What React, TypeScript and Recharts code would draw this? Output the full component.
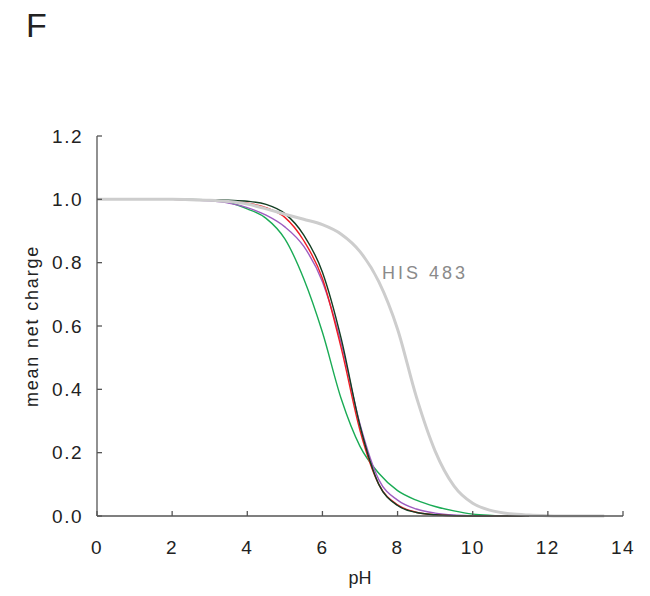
import { LineChart, Line, XAxis, YAxis } from "recharts";

// pH grid the curves were read on
const phValues = [
  0, 0.5, 1, 1.5, 2, 2.5, 3, 3.5, 4, 4.5, 5, 5.5, 6, 6.5, 7, 7.5, 8, 8.5, 9,
  9.5, 10, 10.5, 11, 11.5, 12, 12.5, 13, 13.5, 14,
];

// mean net charge per residue
const his483 = [
  1, 1, 1, 1, 1, 0.999, 0.997, 0.993, 0.985, 0.97, 0.953, 0.937, 0.92, 0.89,
  0.835, 0.74, 0.59, 0.376, 0.205, 0.095, 0.04, 0.017, 0.007, 0.003, 0.001, 0,
  0, 0, null,
];
const blackCurve = [
  1, 1, 1, 1, 1, 1, 0.999, 0.997, 0.994, 0.984, 0.955, 0.888, 0.77, 0.56,
  0.285, 0.1, 0.033, 0.011, 0.004, 0.001, 0, 0, 0, 0, null, null, null, null,
  null,
];
const redCurve = [
  1, 1, 1, 1, 1, 0.999, 0.997, 0.994, 0.988, 0.974, 0.943, 0.87, 0.75, 0.53,
  0.27, 0.1, 0.035, 0.012, 0.004, 0.001, 0, 0, 0, 0, null, null, null, null,
  null,
];
const purpleCurve = [
  1, 1, 1, 1, 1, 0.998, 0.995, 0.988, 0.974, 0.95, 0.913, 0.852, 0.74, 0.545,
  0.29, 0.115, 0.05, 0.022, 0.009, 0.003, 0.001, 0, 0, 0, null, null, null,
  null, null,
];
const greenCurve = [
  1, 1, 1, 1, 1, 0.999, 0.997, 0.99, 0.97, 0.94, 0.875, 0.75, 0.58, 0.37,
  0.22, 0.135, 0.08, 0.05, 0.03, 0.016, 0.006, 0.002, 0, null, null, null,
  null, null, null,
];

const xTicks = [0, 2, 4, 6, 8, 10, 12, 14];
const yTicks = [0, 0.2, 0.4, 0.6, 0.8, 1.0, 1.2];

const data = phValues.map((ph, i) => ({
  ph,
  his483: his483[i],
  black: blackCurve[i],
  red: redCurve[i],
  purple: purpleCurve[i],
  green: greenCurve[i],
}));

const font = '"Liberation Sans", Arial, sans-serif';

export default function App() {
  return (
    <div style={{ position: "relative", width: 634, height: 580, fontFamily: font }}>
      <div
        style={{
          position: "absolute",
          left: 18,
          top: 0,
          fontSize: 34,
          lineHeight: 1,
          color: "#222",
        }}
      >
        F
      </div>
      <div
        style={{
          position: "absolute",
          left: 374,
          top: 256,
          fontSize: 18,
          lineHeight: 1,
          letterSpacing: 3,
          color: "#8a8a8a",
          zIndex: 2,
        }}
      >
        HIS 483
      </div>

      <LineChart
        width={634}
        height={580}
        data={data}
        margin={{ top: 128, right: 19, bottom: 0, left: 0 }}
        style={{ fontFamily: font }}
      >
        <XAxis
          dataKey="ph"
          type="number"
          domain={[0, 14]}
          ticks={xTicks}
          height={72}
          axisLine={{ stroke: "#555", strokeWidth: 1.3 }}
          tickLine={{ stroke: "#555", strokeWidth: 1.3 }}
          tickSize={-5}
          tickMargin={30}
          tick={{ fill: "#222", fontSize: 19, letterSpacing: 1.5 }}
          label={{
            value: "pH",
            position: "insideBottom",
            offset: 4,
            fill: "#222",
            fontSize: 18,
          }}
        />
        <YAxis
          type="number"
          domain={[0, 1.2]}
          ticks={yTicks}
          width={89}
          axisLine={{ stroke: "#555", strokeWidth: 1.3 }}
          tickLine={{ stroke: "#555", strokeWidth: 1.3 }}
          tickSize={-5}
          tickMargin={19}
          tickFormatter={(v: number) => v.toFixed(1)}
          tick={{ fill: "#222", fontSize: 19, letterSpacing: 1.5 }}
          label={{
            value: "mean net charge",
            angle: -90,
            position: "insideLeft",
            offset: 24,
            fill: "#222",
            fontSize: 18,
            letterSpacing: 1.8,
            style: { textAnchor: "middle" },
          }}
        />
        <Line type="monotone" dataKey="green" stroke="#1aab55" strokeWidth={1.4} dot={false} isAnimationActive={false} />
        <Line type="monotone" dataKey="purple" stroke="#9e5cc0" strokeWidth={1.4} dot={false} isAnimationActive={false} />
        <Line type="monotone" dataKey="red" stroke="#f01e23" strokeWidth={1.4} dot={false} isAnimationActive={false} />
        <Line type="monotone" dataKey="black" stroke="#123d22" strokeWidth={1.4} dot={false} isAnimationActive={false} />
        <Line type="monotone" dataKey="his483" stroke="#cdcdcd" strokeWidth={3} dot={false} isAnimationActive={false} />
      </LineChart>
    </div>
  );
}
